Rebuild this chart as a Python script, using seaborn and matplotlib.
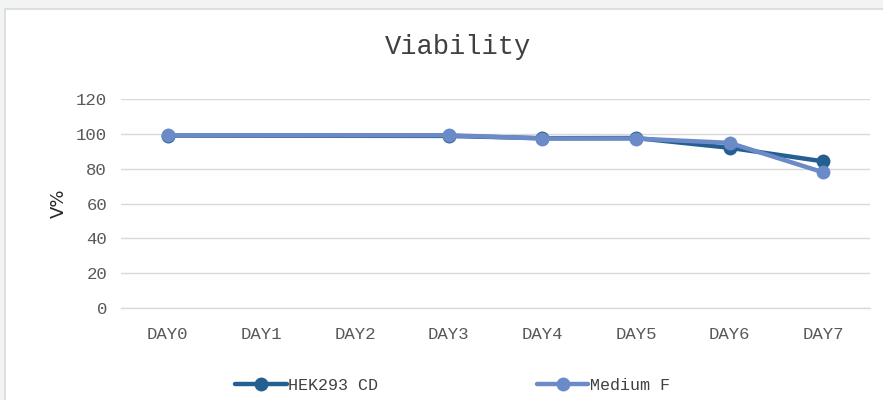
import numpy as np
import pandas as pd
import matplotlib
matplotlib.use("Agg")
import matplotlib.pyplot as plt
import seaborn as sns
from matplotlib.patches import Rectangle
from matplotlib.lines import Line2D

categories = ["DAY0", "DAY1", "DAY2", "DAY3", "DAY4", "DAY5", "DAY6", "DAY7"]
hek293_cd = [99, None, None, 98.8, 97.5, 97.6, 92, 84.2]
medium_f = [99.2, None, None, 99.2, 97.3, 97.3, 94.8, 77.9]
series_names = ["HEK293 CD", "Medium F"]
colors = ["#255E91", "#6A8BC8"]

rows = []
for name, vals in zip(series_names, [hek293_cd, medium_f]):
    for i, (c, v) in enumerate(zip(categories, vals)):
        if v is not None:
            rows.append({"pos": i, "day": c, "value": v, "series": name})
df = pd.DataFrame(rows)

sns.set_theme(style="white")
FONT = "Liberation Mono"

fig = plt.figure(figsize=(8.83, 4.0), dpi=100)
fig.patch.set_facecolor("#f2f3f3")
fig.patches.append(Rectangle((5 / 883, -0.01), 1, 1.01 - 9 / 400, transform=fig.transFigure,
                             facecolor="white", edgecolor="#d9d9d9", linewidth=1.2, zorder=-10))

ax = fig.add_axes([121 / 883, 92 / 400, 749 / 883, 209 / 400])
ax.set_facecolor("none")

sns.lineplot(data=df, x="pos", y="value", hue="series", hue_order=series_names,
             palette=colors, marker="o", markersize=10, markeredgewidth=0,
             linewidth=3.2, ax=ax, legend=False, sort=True)

ax.set_xlim(-0.5, len(categories) - 0.5)
ax.set_ylim(0, 120)
ax.set_yticks(np.arange(0, 121, 20))
ax.set_xticks(range(len(categories)))
ax.set_xticklabels(categories)
ax.grid(axis="y", color="#d9d9d9", linewidth=1)
ax.grid(axis="x", visible=False)
ax.set_axisbelow(True)
for s in ["top", "right", "left"]:
    ax.spines[s].set_visible(False)
ax.spines["bottom"].set_color("#d9d9d9")
ax.spines["bottom"].set_linewidth(1)
ax.tick_params(axis="both", length=0, colors="#595959", labelsize=12.5)
ax.tick_params(axis="x", pad=14)
ax.tick_params(axis="y", pad=10)
for lab in ax.get_xticklabels() + ax.get_yticklabels():
    lab.set_fontfamily(FONT)
ax.set_xlabel("")
ax.set_ylabel("V%", fontsize=13, color="#262626", labelpad=6, fontfamily="DejaVu Sans")

fig.text(458 / 883, 1 - 47 / 400, "Viability", ha="center", va="center",
         fontsize=19.5, color="#404040", fontfamily=FONT)

handles = [Line2D([], [], color=c, lw=3.2, marker="o", markersize=10, markeredgewidth=0) for c in colors]
leg = fig.legend(handles, series_names, loc="center left", bbox_to_anchor=(235 / 883, 1 - 385 / 400),
                 ncol=2, frameon=False, handlelength=3.1, columnspacing=9.5, handletextpad=0.1,
                 borderpad=0, borderaxespad=0, prop={"family": FONT, "size": 12})
for t in leg.get_texts():
    t.set_color("#404040")

fig.savefig("out.png", dpi=100)
